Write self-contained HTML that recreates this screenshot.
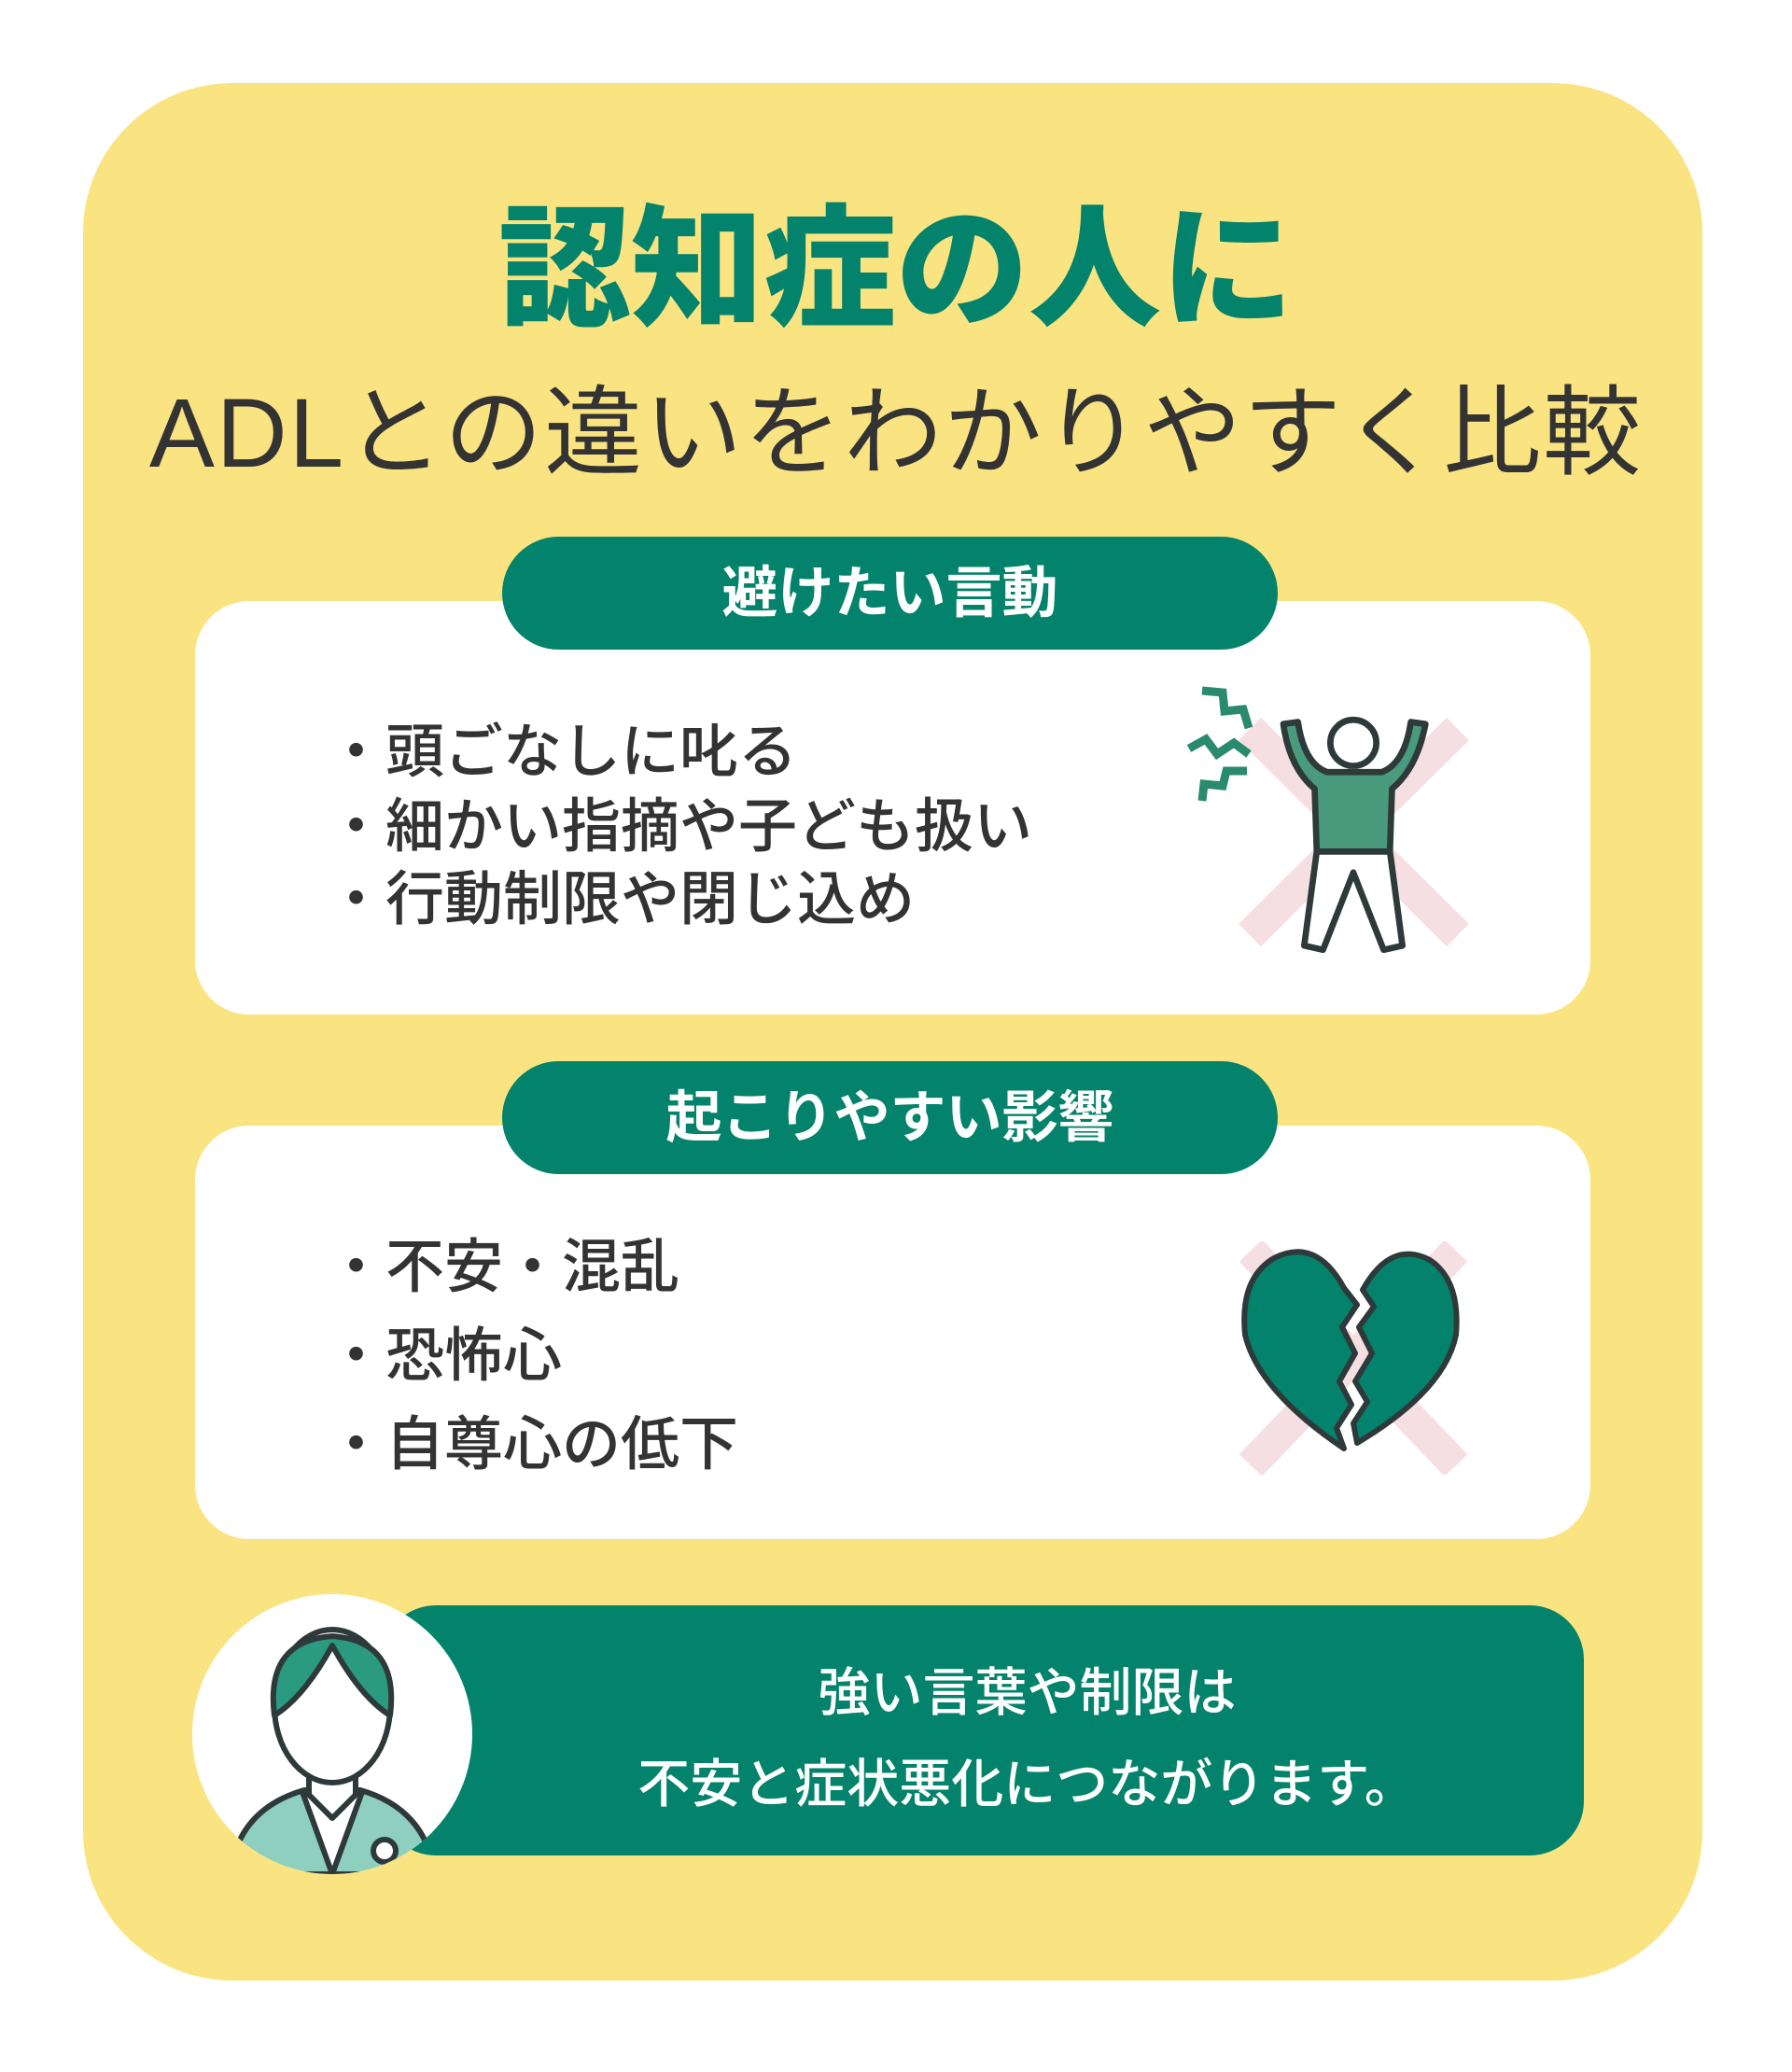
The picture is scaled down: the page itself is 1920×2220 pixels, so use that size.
<!DOCTYPE html>
<html><head><meta charset="utf-8"><style>
*{margin:0;padding:0;box-sizing:border-box}
body{width:1920px;height:2220px;background:#fff;position:relative;overflow:hidden;font-family:"Liberation Sans","Noto Sans CJK JP",sans-serif}
.a{position:absolute}
.card{left:89px;top:89px;width:1735px;height:2033px;background:#fae381;border-radius:160px}
.t1{left:0;width:1920px;top:205px;text-align:center;font-size:142px;font-weight:900;color:#03836b;line-height:170px}
.t2{left:0;width:1920px;top:400px;text-align:center;font-size:105px;color:#333;line-height:130px;letter-spacing:2px}
.box{left:209px;width:1495px;height:443px;background:#fff;border-radius:58px}
.pill{left:538px;width:831px;height:121px;background:#03836b;border-radius:61px;color:#fff;font-size:60px;font-weight:bold;text-align:center;line-height:121px}
.li{left:350px;font-size:63px;color:#333;font-weight:500;line-height:80px}
.bar{left:409px;top:1720px;width:1288px;height:268px;background:#03836b;border-radius:58px;color:#fff;font-size:56px;font-weight:500;text-align:center;padding-left:95px}
</style></head><body>
<div class="a card"></div>
<div class="a t1">認知症の人に</div>
<div class="a t2">ADLとの違いをわかりやすく比較</div>

<div class="a box" style="top:644px"></div>
<div class="a pill" style="top:575px">避けたい言動</div>
<div class="a li" style="top:766px">・頭ごなしに叱る</div>
<div class="a li" style="top:846px">・細かい指摘や子ども扱い</div>
<div class="a li" style="top:924px">・行動制限や閉じ込め</div>
<svg class="a" style="left:1260px;top:730px" width="340" height="300" viewBox="0 0 340 300">
<path d="M79 51 L302 272 M302 51 L79 272" stroke="#f6dfe2" stroke-width="34"/>
<path d="M28 10 L50 12 L52 32 L72 30 L78 50" stroke="#2a8a6e" stroke-width="9" fill="none"/>
<path d="M14 72 L32 62 L44 78 L62 66 L78 78" stroke="#2a8a6e" stroke-width="9" fill="none"/>
<path d="M28 128 L30 110 L50 112 L54 96 L76 96" stroke="#2a8a6e" stroke-width="9" fill="none"/>
<g transform="translate(190,160) scale(1.12) translate(-185,-160)">
<path d="M118 58 Q124 100 148 120 L150 180 L220 180 L222 120 Q246 100 254 58 L240 56 Q234 96 212 104 L160 104 Q138 96 132 56 Z" fill="#4a9a7e" stroke="#2e3a3a" stroke-width="6" stroke-linejoin="round"/>
<path d="M150 180 L138 270 L156 274 L185 200 L214 274 L232 270 L220 180 Z" fill="#fff" stroke="#2e3a3a" stroke-width="6" stroke-linejoin="round"/>
<circle cx="185" cy="76" r="22" fill="#fff" stroke="#2e3a3a" stroke-width="6"/>
</g>
</svg>

<div class="a box" style="top:1206px"></div>
<div class="a pill" style="top:1137px">起こりやすい影響</div>
<div class="a li" style="top:1318px">・不安・混乱</div>
<div class="a li" style="top:1413px">・恐怖心</div>
<div class="a li" style="top:1508px">・自尊心の低下</div>
<svg class="a" style="left:1320px;top:1330px" width="260" height="250" viewBox="0 0 260 250">
<path d="M20 10 L240 240 M240 10 L20 240" stroke="#f6dfe2" stroke-width="34"/>
<path d="M120 50 Q90 -5 45 18 Q8 40 14 100 Q28 160 120 222 L112 200 L128 175 L115 150 L132 120 L118 92 L134 68 Z" fill="#03836b" stroke="#2e3a3a" stroke-width="6" stroke-linejoin="round"/>
<path d="M140 52 Q170 -2 212 20 Q245 42 240 100 Q228 160 134 216 L130 195 L145 172 L132 150 L150 120 L136 92 L152 70 Z" fill="#03836b" stroke="#2e3a3a" stroke-width="6" stroke-linejoin="round"/>
</svg>

<div class="a bar"><div style="margin-top:56px;line-height:76px">強い言葉や制限は</div><div style="margin-top:22px;line-height:76px">不安と症状悪化につながります。</div></div>
<svg class="a" style="left:206px;top:1708px" width="300" height="300" viewBox="0 0 300 300">
<defs><clipPath id="c"><circle cx="150" cy="150" r="150"/></clipPath></defs>
<circle cx="150" cy="150" r="150" fill="#fff"/>
<g clip-path="url(#c)" stroke="#2e3a3a" stroke-width="6" stroke-linejoin="round">
<path d="M40 300 Q50 230 120 210 L180 210 Q250 230 260 300 Z" fill="#8ecfc0"/>
<path d="M118 212 L150 300 L182 212 Z" fill="#fff"/>
<path d="M125 195 L125 215 L150 240 L175 215 L175 195 Z" fill="#fff"/>
<ellipse cx="150" cy="120" rx="62" ry="82" fill="#fff"/>
<path d="M88 130 Q78 50 150 45 Q222 50 212 130 Q180 110 150 55 Q120 110 88 130 Z" fill="#2a9a80"/>
<circle cx="206" cy="275" r="12" fill="#fff"/>
</g>
</svg>
</body></html>
